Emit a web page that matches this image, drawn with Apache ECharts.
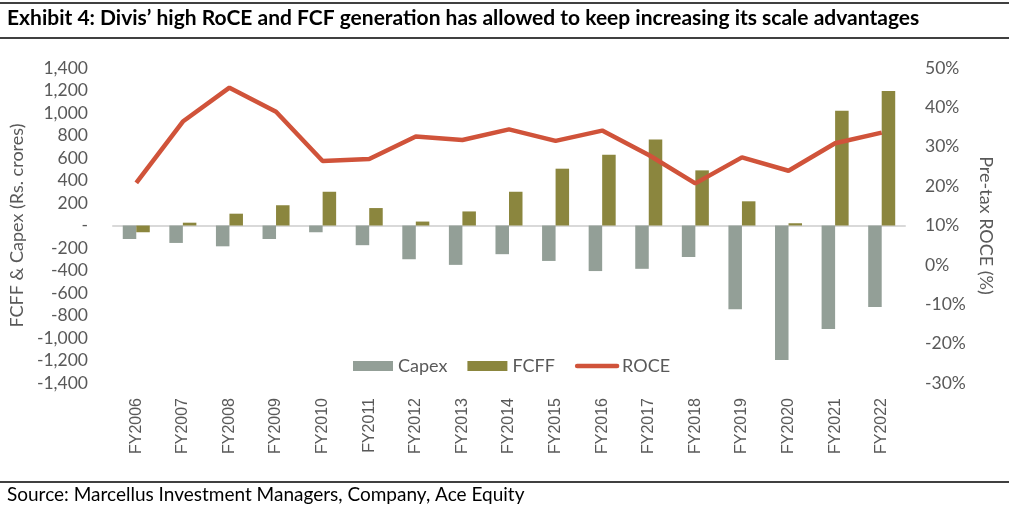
<!DOCTYPE html>
<html>
<head>
<meta charset="utf-8">
<script src="https://cdn.jsdelivr.net/npm/echarts@6/dist/echarts.min.js"></script>
<style>
html,body{margin:0;padding:0;background:#fff;}
#chart{width:1009px;height:512px;}
</style>
</head>
<body>
<div id="chart"></div>
<script>
const categories = ['FY2006','FY2007','FY2008','FY2009','FY2010','FY2011','FY2012','FY2013','FY2014','FY2015','FY2016','FY2017','FY2018','FY2019','FY2020','FY2021','FY2022'];
const capex = [-120,-155,-185,-120,-60,-175,-300,-350,-255,-315,-405,-385,-280,-745,-1195,-920,-725];
const fcff = [-60,25,105,180,300,155,35,125,300,505,630,765,490,215,20,1020,1195];
const roce = [20.8,36.4,45.0,38.9,26.4,26.9,32.6,31.7,34.4,31.5,34.1,27.9,20.7,27.3,23.9,30.9,33.6];
const leftTicks = {min:-1400, max:1400, interval:200};
const rightTicks = {min:-30, max:50, interval:10};

const txt = '#595959';
const fontMain = 'Lato, "Open Sans", sans-serif';
const chart = echarts.init(document.getElementById('chart'));
chart.setOption({
  animation: false,
  backgroundColor: '#fff',
  graphic: [
    {type:'line', shape:{x1:0,y1:3,x2:1009,y2:3}, style:{stroke:'#000',lineWidth:1.5}},
    {type:'line', shape:{x1:0,y1:38,x2:1009,y2:38}, style:{stroke:'#000',lineWidth:1.5}},
    {type:'line', shape:{x1:0,y1:482,x2:1009,y2:482}, style:{stroke:'#000',lineWidth:1.5}},
    {type:'text', left:7, top:8, style:{text:'Exhibit 4: Divis’ high RoCE and FCF generation has allowed to keep increasing its scale advantages', font:'bold 21px '+fontMain, fill:'#000'}},
    {type:'text', left:7, top:485, style:{text:'Source: Marcellus Investment Managers, Company, Ace Equity', font:'19px '+fontMain, fill:'#000'}}
  ],
  legend: {
    top: 352, left: 348,
    itemWidth: 40, itemHeight: 10, itemGap: 20,
    textStyle: {color: txt, fontSize: 18, fontFamily: fontMain},
    data: [{name:'Capex', icon:'rect'}, {name:'FCFF', icon:'rect'},
           {name:'ROCE', itemStyle:{opacity:0}, lineStyle:{width:4.5, cap:'round', color:'#d0533a'}}]
  },
  grid: {left:112, right:104, top:68, bottom:129},
  xAxis: [
    {type:'category', data:categories, position:'bottom',
     axisLine:{show:false, onZero:false}, axisTick:{show:false},
     axisLabel:{rotate:90, interval:0, margin:15, color:txt, fontSize:16, fontFamily:'"Liberation Sans", Arial, sans-serif'}},
    {type:'category', data:categories, position:'bottom',
     axisLine:{show:true, onZero:true, lineStyle:{color:'#d9d9d9', width:2}}, axisTick:{show:false}, axisLabel:{show:false}}
  ],
  yAxis: [
    {type:'value', min:leftTicks.min, max:leftTicks.max, interval:leftTicks.interval,
     name:'FCFF & Capex (Rs. crores)', nameLocation:'middle', nameGap:80, nameRotate:90,
     nameTextStyle:{color:txt, fontSize:18, fontFamily:fontMain},
     axisLine:{show:false}, axisTick:{show:false}, splitLine:{show:false},
     axisLabel:{margin:25, color:txt, fontSize:17.5, fontFamily:fontMain,
       formatter: v => v === 0 ? '-' : v.toLocaleString('en-US')}},
    {type:'value', min:rightTicks.min, max:rightTicks.max, interval:rightTicks.interval,
     name:'Pre-tax ROCE (%)', nameLocation:'middle', nameGap:72, nameRotate:-90,
     nameTextStyle:{color:txt, fontSize:18, fontFamily:fontMain},
     axisLine:{show:false}, axisTick:{show:false}, splitLine:{show:false},
     axisLabel:{margin:20, color:txt, fontSize:17.5, fontFamily:fontMain, formatter: v => v + '%'}}
  ],
  series: [
    {name:'Capex', type:'bar', data:capex, xAxisIndex:0, yAxisIndex:0, barGap:'0%', barCategoryGap:'42%',
     itemStyle:{color:'#939f97'}},
    {name:'FCFF', type:'bar', data:fcff, xAxisIndex:0, yAxisIndex:0, barGap:'0%', barCategoryGap:'42%',
     itemStyle:{color:'#8b863e'}},
    {name:'ROCE', type:'line', data:roce, xAxisIndex:0, yAxisIndex:1, symbol:'none',
     lineStyle:{color:'#d0533a', width:4.5}, itemStyle:{color:'#d0533a'}, z:5}
  ]
});
</script>
</body>
</html>
